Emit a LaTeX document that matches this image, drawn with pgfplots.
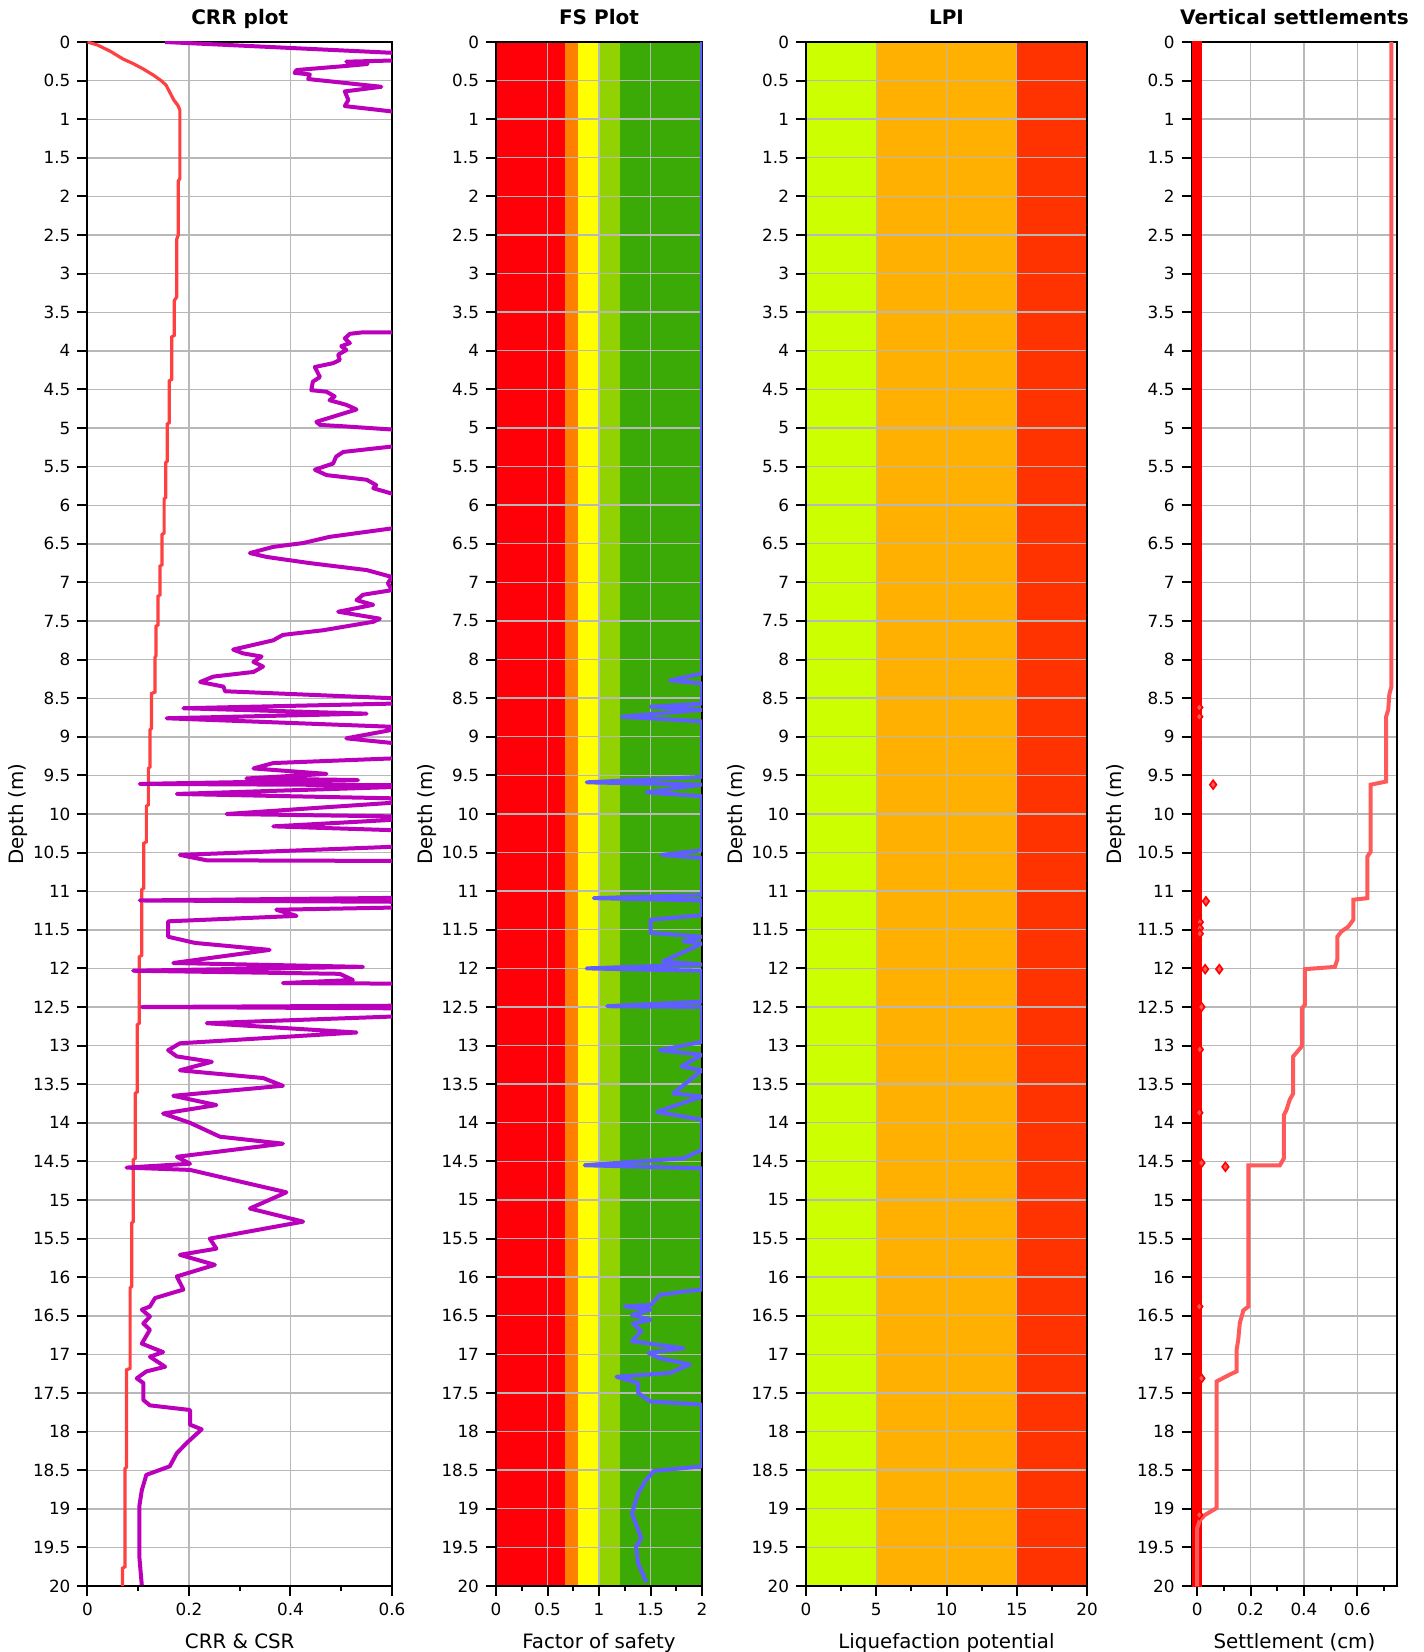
\documentclass[border=0pt]{standalone}
\usepackage{fontspec}
\setmainfont{DejaVu Sans}
\usepackage{pgfplots}
\pgfplotsset{compat=1.18}

\definecolor{csrred}{HTML}{FF4040}
\definecolor{crrpurple}{HTML}{BB00BB}
\definecolor{fsblue}{HTML}{5F5FFF}
\definecolor{gridgray}{HTML}{B8B8B8}
\definecolor{fsred}{HTML}{FF0008}
\definecolor{fsorange}{HTML}{FF8000}
\definecolor{fsyellow}{HTML}{FFFF00}
\definecolor{fslime}{HTML}{92D200}
\definecolor{fsgreen}{HTML}{3BAA06}
\definecolor{lpilime}{HTML}{CCFF00}
\definecolor{lpiorange}{HTML}{FFB000}
\definecolor{lpired}{HTML}{FF3300}
\definecolor{settline}{HTML}{FF5A5A}

\pgfplotsset{
  depthaxis/.style={
    scale only axis, height=772pt, anchor=south west,
    y dir=reverse, ymin=0, ymax=20, ytick distance=0.5,
    xmajorgrids, ymajorgrids,
    major grid style={gridgray, line width=0.7pt},
    axis line style={black, line width=1pt},
    tick align=outside, tick pos=left,
    major tick length=5pt, minor tick length=2.5pt,
    every tick/.style={black, line width=1pt},
    tick label style={font=\fontsize{8.4}{10}\selectfont},
    /pgf/number format/assume math mode=true,
    title style={font=\bfseries\fontsize{10}{12}\selectfont,
      at={(rel axis cs:0.5,1)}, anchor=base, yshift=2.5pt},
    xlabel style={font=\fontsize{9.9}{12}\selectfont,
      at={(rel axis cs:0.5,0)}, anchor=base, yshift=-31.3pt},
    ylabel style={font=\fontsize{9.9}{12}\selectfont, anchor=center},
    ylabel={Depth (m)},
  },
}

\begin{document}
\begin{tikzpicture}

% CRR & CSR
\begin{axis}[depthaxis, at={(43.75pt,33pt)}, width=152.25pt,
  xmin=0, xmax=0.6, xtick={0,0.2,0.4,0.6}, minor xtick={0.1,0.3,0.5},
  title={CRR plot}, xlabel={CRR \& CSR},
  ylabel style={at={(rel axis cs:-0.2266,0.5)}}]
\addplot[csrred, line width=1.6pt] coordinates {
 (0,0) (0.02,0.04) (0.045,0.12) (0.07,0.22) (0.09,0.28) (0.11,0.35) (0.13,0.43)
 (0.145,0.5) (0.155,0.56) (0.162,0.65) (0.170,0.75) (0.178,0.82) (0.182,0.88)
 (0.182,1.77) (0.179,1.80) (0.179,2.50) (0.176,2.55) (0.176,3.30) (0.171,3.35)
 (0.171,3.80) (0.166,3.82) (0.166,4.37) (0.161,4.39) (0.161,4.93) (0.157,4.95)
 (0.157,5.43) (0.154,5.45) (0.154,5.90) (0.151,5.92) (0.151,6.36) (0.147,6.38)
 (0.147,6.77) (0.143,6.79) (0.143,7.16) (0.139,7.18) (0.139,7.55) (0.135,7.57)
 (0.135,7.95) (0.133,7.97) (0.133,8.42) (0.126,8.44) (0.126,8.89) (0.123,8.91)
 (0.123,9.39) (0.120,9.41) (0.120,9.88) (0.116,9.90) (0.116,10.36) (0.111,10.38)
 (0.111,10.96) (0.107,10.98) (0.107,11.83) (0.102,11.85) (0.102,12.71) (0.098,12.73)
 (0.098,13.60) (0.094,13.62) (0.094,14.46) (0.090,14.48) (0.090,15.28) (0.087,15.30)
 (0.087,16.12) (0.084,16.14) (0.084,17.18) (0.077,17.20) (0.077,18.46) (0.074,18.48)
 (0.074,19.75) (0.069,19.77) (0.069,20.0)
};
\addplot[crrpurple, line width=2pt, line join=round] coordinates {
 (0.153,0) (0.6,0.14) (0.7,0.19) (0.6,0.24) (0.51,0.255) (0.552,0.285) (0.51,0.31)
 (0.412,0.363) (0.408,0.40) (0.438,0.42) (0.435,0.48) (0.579,0.58) (0.507,0.64)
 (0.514,0.75) (0.507,0.83) (0.6,0.90) (0.7,1.0) (0.7,3.7) (0.6,3.76) (0.543,3.76)
 (0.517,3.78) (0.507,3.84) (0.517,3.90) (0.500,3.94) (0.510,3.99) (0.494,4.05)
 (0.497,4.12) (0.484,4.16) (0.448,4.21) (0.458,4.34) (0.444,4.40) (0.441,4.51)
 (0.471,4.53) (0.487,4.59) (0.477,4.64) (0.510,4.70) (0.530,4.76) (0.451,4.92)
 (0.458,4.96) (0.510,4.98) (0.6,5.02) (0.7,5.06) (0.7,5.2) (0.6,5.24) (0.504,5.31)
 (0.490,5.37) (0.484,5.46) (0.448,5.54) (0.471,5.61) (0.550,5.67) (0.569,5.74)
 (0.563,5.78) (0.6,5.85) (0.7,5.9) (0.7,6.25) (0.6,6.30) (0.477,6.41) (0.425,6.49)
 (0.366,6.54) (0.320,6.62) (0.353,6.67) (0.438,6.75) (0.550,6.84) (0.6,6.93)
 (0.592,7.01) (0.6,7.10) (0.543,7.16) (0.530,7.23) (0.563,7.29) (0.494,7.38)
 (0.576,7.47) (0.563,7.51) (0.464,7.62) (0.385,7.68) (0.366,7.75) (0.287,7.87)
 (0.307,7.92) (0.343,7.96) (0.327,8.03) (0.346,8.09) (0.327,8.16) (0.248,8.22)
 (0.222,8.29) (0.268,8.35) (0.271,8.41) (0.6,8.50) (0.7,8.53) (0.6,8.57)
 (0.189,8.63) (0.550,8.70) (0.156,8.76) (0.6,8.87) (0.7,8.89) (0.6,8.91)
 (0.510,9.02) (0.6,9.08) (0.7,9.12) (0.7,9.25) (0.6,9.28) (0.366,9.34) (0.327,9.41)
 (0.471,9.48) (0.313,9.54) (0.533,9.56) (0.103,9.61) (0.7,9.63) (0.176,9.74)
 (0.7,9.81) (0.274,10.0) (0.7,10.04) (0.366,10.16) (0.7,10.23) (0.7,10.40)
 (0.182,10.53) (0.235,10.60) (0.7,10.61) (0.7,11.08) (0.103,11.12) (0.7,11.14)
 (0.7,11.20) (0.372,11.24) (0.412,11.32) (0.159,11.39) (0.159,11.59) (0.212,11.67)
 (0.359,11.76) (0.169,11.93) (0.543,11.98) (0.090,12.03) (0.497,12.07) (0.523,12.15)
 (0.385,12.19) (0.7,12.20) (0.7,12.48) (0.107,12.50) (0.7,12.52) (0.7,12.60)
 (0.235,12.71) (0.530,12.83) (0.182,12.97) (0.159,13.06) (0.176,13.14) (0.245,13.21)
 (0.182,13.32) (0.346,13.42) (0.385,13.52) (0.169,13.65) (0.254,13.77) (0.149,13.88)
 (0.202,14.0) (0.261,14.18) (0.385,14.27) (0.176,14.44) (0.202,14.53) (0.077,14.58)
 (0.202,14.61) (0.300,14.76) (0.392,14.90) (0.320,15.11) (0.425,15.28) (0.241,15.50)
 (0.254,15.63) (0.182,15.71) (0.251,15.84) (0.176,15.99) (0.189,16.16) (0.133,16.27)
 (0.123,16.38) (0.107,16.42) (0.123,16.51) (0.110,16.60) (0.123,16.68) (0.107,16.86)
 (0.149,16.97) (0.123,17.03) (0.153,17.16) (0.116,17.22) (0.097,17.31) (0.110,17.37)
 (0.110,17.59) (0.123,17.66) (0.202,17.72) (0.202,17.91) (0.225,17.97) (0.195,18.15)
 (0.176,18.28) (0.162,18.45) (0.116,18.56) (0.107,18.76) (0.102,18.97) (0.102,19.61)
 (0.107,19.99)
};
\end{axis}

% Factor of safety
\begin{axis}[depthaxis, set layers, at={(248pt,33pt)}, width=103pt,
  xmin=0, xmax=2, xtick={0,0.5,1,1.5,2}, minor xtick={0.25,0.75,1.25,1.75},
  title={FS Plot}, xlabel={Factor of safety},
  ylabel style={at={(rel axis cs:-0.335,0.5)}}]
\addplot[draw=none, fill=fsred, on layer=axis background] coordinates {(0,0) (0.67,0) (0.67,20) (0,20)};
\addplot[draw=none, fill=fsorange, on layer=axis background] coordinates {(0.67,0) (0.8,0) (0.8,20) (0.67,20)};
\addplot[draw=none, fill=fsyellow, on layer=axis background] coordinates {(0.8,0) (1,0) (1,20) (0.8,20)};
\addplot[draw=none, fill=fslime, on layer=axis background] coordinates {(1,0) (1.2,0) (1.2,20) (1,20)};
\addplot[draw=none, fill=fsgreen, on layer=axis background] coordinates {(1.2,0) (2,0) (2,20) (1.2,20)};
\addplot[fsblue, line width=2pt, line join=round] coordinates {
 (2,0) (2,8.18) (1.69,8.27) (2,8.31) (2,8.57) (1.50,8.61) (2,8.65) (1.22,8.74)
 (2,8.80) (2,9.52) (0.88,9.59) (2,9.62) (1.46,9.72) (2,9.77) (2,10.47) (1.61,10.53)
 (2,10.57) (2,11.05) (0.95,11.09) (2,11.12) (2,11.31) (1.50,11.37) (1.50,11.54)
 (2,11.59) (1.82,11.65) (2,11.68) (1.62,11.91) (2,11.95) (0.88,12.0) (2,12.03)
 (2,12.43) (1.08,12.49) (2,12.50) (2,12.95) (1.59,13.06) (2,13.12) (1.80,13.27)
 (2,13.32) (1.72,13.62) (2,13.66) (1.56,13.86) (2,13.96) (2,14.35) (1.82,14.46)
 (0.86,14.55) (2,14.59) (2,16.16) (1.80,16.19) (1.59,16.23) (1.53,16.32) (1.50,16.36)
 (1.25,16.38) (1.50,16.42) (1.32,16.49) (1.50,16.55) (1.33,16.60) (1.41,16.70)
 (1.36,16.77) (1.32,16.83) (1.82,16.92) (1.48,16.98) (1.59,17.05) (1.88,17.13)
 (1.69,17.24) (1.17,17.29) (1.38,17.37) (1.38,17.50) (1.50,17.61) (2,17.65)
 (2,18.45) (1.53,18.51) (1.45,18.64) (1.38,18.80) (1.32,19.06) (1.41,19.38)
 (1.36,19.49) (1.38,19.71) (1.46,19.95)
};
\end{axis}

% Liquefaction potential index
\begin{axis}[depthaxis, set layers, at={(403pt,33pt)}, width=140.5pt,
  xmin=0, xmax=20, xtick={0,5,10,15,20}, minor xtick={2.5,7.5,12.5,17.5},
  title={LPI}, xlabel={Liquefaction potential},
  ylabel style={at={(rel axis cs:-0.2456,0.5)}}]
\addplot[draw=none, fill=lpilime, on layer=axis background] coordinates {(0,0) (5,0) (5,20) (0,20)};
\addplot[draw=none, fill=lpiorange, on layer=axis background] coordinates {(5,0) (15,0) (15,20) (5,20)};
\addplot[draw=none, fill=lpired, on layer=axis background] coordinates {(15,0) (20,0) (20,20) (15,20)};
\end{axis}

% Vertical settlements
\begin{axis}[depthaxis, at={(595.75pt,33pt)}, width=102.9pt,
  xmin=-0.021, xmax=0.75, xtick={0,0.2,0.4,0.6}, minor xtick={0.1,0.3,0.5,0.7},
  title={Vertical settlements}, xlabel={Settlement (cm)},
  ylabel style={at={(rel axis cs:-0.3645,0.5)}}]
\addplot[red, line width=4.8pt, line cap=round] coordinates {(0,0) (0,20)};
\addplot[settline, line width=2pt] coordinates {
 (0.728,0) (0.728,8.35) (0.720,8.45) (0.716,8.65) (0.708,8.74) (0.708,9.58)
 (0.650,9.62) (0.650,10.49) (0.638,10.55) (0.638,11.09) (0.585,11.11) (0.585,11.37)
 (0.566,11.46) (0.541,11.52) (0.525,11.59) (0.525,11.89) (0.516,11.98) (0.404,12.01)
 (0.404,12.47) (0.392,12.52) (0.392,13.01) (0.360,13.14) (0.360,13.62) (0.347,13.70)
 (0.335,13.83) (0.325,13.90) (0.325,14.46) (0.310,14.55) (0.192,14.55) (0.192,16.38)
 (0.173,16.43) (0.167,16.51) (0.160,16.59) (0.154,16.81) (0.148,16.94) (0.148,17.22)
 (0.123,17.26) (0.073,17.35) (0.073,18.99) (0.029,19.08) (0.010,19.15) (0.0,19.25)
 (0.0,20)
};
\addplot[only marks, mark=diamond*, mark size=2.2pt,
  mark options={draw=red, fill=settline, line width=0.8pt}] coordinates {
 (0.060,9.62) (0.033,11.13) (0.030,12.01) (0.083,12.01) (0.016,12.50) (0.010,13.05)
 (0.008,13.87) (0.106,14.57) (0.016,14.52) (0.016,17.31) (0.008,8.62) (0.008,8.74)
 (0.010,11.40) (0.010,11.48) (0.010,11.55) (0.008,16.38) (0.008,19.08)
};
\end{axis}

\pgfresetboundingbox
\path[use as bounding box] (0,0) rectangle (711.5pt,826pt);
\end{tikzpicture}
\end{document}
